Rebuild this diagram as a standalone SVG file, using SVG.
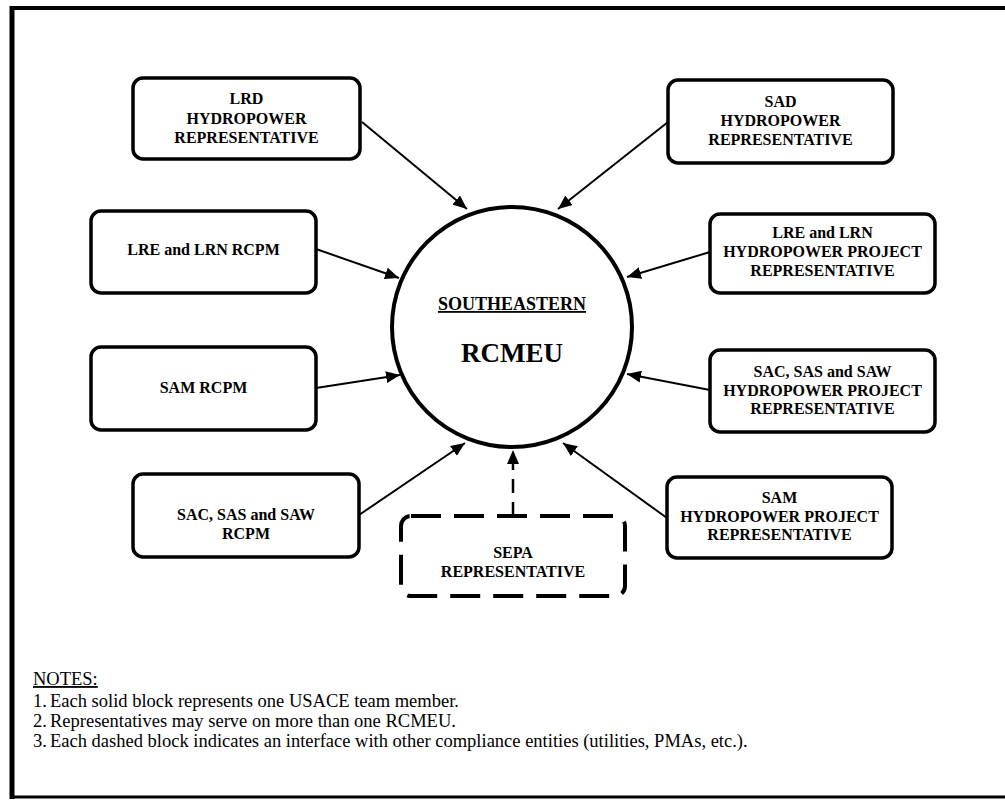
<svg xmlns="http://www.w3.org/2000/svg" width="1005" height="800" viewBox="0 0 1005 800">
<defs>
<style>
.box{fill:#fff;stroke:#000;stroke-width:3.5}
.dbox{fill:#fff;stroke:#000;stroke-width:4;stroke-dasharray:30 13}
.t{font-family:"Liberation Serif","Times New Roman",serif;font-weight:bold;font-size:16px;text-anchor:middle;fill:#000}
.n{font-family:"Liberation Serif","Times New Roman",serif;font-size:18.5px;fill:#000}
.c{stroke:#000;stroke-width:2;fill:none;marker-end:url(#ah)}
.cd{stroke:#000;stroke-width:2.5;fill:none;stroke-dasharray:14 9;marker-end:url(#ah)}
</style>
<marker id="ah" markerUnits="userSpaceOnUse" markerWidth="16" markerHeight="12" refX="14" refY="6" orient="auto">
<path d="M0,0 L14,6 L0,12 Z" fill="#000"/>
</marker>
</defs>
<rect width="1005" height="800" fill="#fff"/>
<g id="frame" fill="none" stroke="#000">
<line x1="11" y1="8" x2="1005" y2="8" stroke-width="4"/>
<line x1="12" y1="6" x2="12" y2="799" stroke-width="5"/>
<line x1="10" y1="797" x2="1005" y2="797" stroke-width="3"/>
</g>
<g id="connectors">
<line class="c" x1="362" y1="122" x2="467" y2="209"/>
<line class="c" x1="668" y1="122" x2="558" y2="209"/>
<line class="c" x1="316" y1="249" x2="399" y2="278"/>
<line class="c" x1="316" y1="388" x2="400" y2="375"/>
<line class="c" x1="359" y1="515" x2="465" y2="443"/>
<line class="c" x1="710" y1="252" x2="627" y2="277"/>
<line class="c" x1="710" y1="390" x2="627" y2="374"/>
<line class="c" x1="667" y1="518" x2="563" y2="443"/>
<line class="cd" x1="513" y1="516" x2="513" y2="450"/>
</g>
<g id="rcmeu">
<circle cx="512" cy="327" r="120" fill="#fff" stroke="#000" stroke-width="4"/>
<text class="t" x="512" y="310" text-decoration="underline" style="font-size:18px">SOUTHEASTERN</text>
<text class="t" x="512" y="362" style="font-size:27px">RCMEU</text>
</g>
<g id="lrd">
<rect class="box" x="133" y="78" width="227" height="81" rx="10"/>
<text class="t" x="246.5" y="104">LRD</text>
<text class="t" x="246.5" y="124">HYDROPOWER</text>
<text class="t" x="246.5" y="143">REPRESENTATIVE</text>
</g>
<g id="sad">
<rect class="box" x="668" y="80" width="225" height="83" rx="10"/>
<text class="t" x="780.5" y="107">SAD</text>
<text class="t" x="780.5" y="126">HYDROPOWER</text>
<text class="t" x="780.5" y="145">REPRESENTATIVE</text>
</g>
<g id="lre-rcpm">
<rect class="box" x="91" y="211" width="225" height="82" rx="10"/>
<text class="t" x="203.5" y="255">LRE and LRN RCPM</text>
</g>
<g id="sam-rcpm">
<rect class="box" x="91" y="347" width="225" height="83" rx="10"/>
<text class="t" x="203.5" y="393">SAM RCPM</text>
</g>
<g id="sac-rcpm">
<rect class="box" x="133" y="474" width="226" height="83" rx="10"/>
<text class="t" x="246" y="520">SAC, SAS and SAW</text>
<text class="t" x="246" y="539">RCPM</text>
</g>
<g id="lre-hpr">
<rect class="box" x="710" y="214" width="225" height="79" rx="10"/>
<text class="t" x="822.5" y="238">LRE and LRN</text>
<text class="t" x="822.5" y="257">HYDROPOWER PROJECT</text>
<text class="t" x="822.5" y="276">REPRESENTATIVE</text>
</g>
<g id="sac-hpr">
<rect class="box" x="710" y="350" width="225" height="82" rx="10"/>
<text class="t" x="822.5" y="377">SAC, SAS and SAW</text>
<text class="t" x="822.5" y="396">HYDROPOWER PROJECT</text>
<text class="t" x="822.5" y="414">REPRESENTATIVE</text>
</g>
<g id="sam-hpr">
<rect class="box" x="667" y="477" width="225" height="81" rx="10"/>
<text class="t" x="779.5" y="503">SAM</text>
<text class="t" x="779.5" y="522">HYDROPOWER PROJECT</text>
<text class="t" x="779.5" y="540">REPRESENTATIVE</text>
</g>
<g id="sepa">
<rect class="dbox" x="401" y="516" width="224" height="80" rx="10"/>
<text class="t" x="513" y="558">SEPA</text>
<text class="t" x="513" y="577">REPRESENTATIVE</text>
</g>
<g id="notes">
<text class="n" x="33" y="685" text-decoration="underline">NOTES:</text>
<text class="n" x="33" y="707">1.</text><text class="n" x="50" y="707">Each solid block represents one USACE team member.</text>
<text class="n" x="33" y="727">2.</text><text class="n" x="50" y="727">Representatives may serve on more than one RCMEU.</text>
<text class="n" x="33" y="747">3.</text><text class="n" x="50" y="747">Each dashed block indicates an interface with other compliance entities (utilities, PMAs, etc.).</text>
</g>
</svg>
